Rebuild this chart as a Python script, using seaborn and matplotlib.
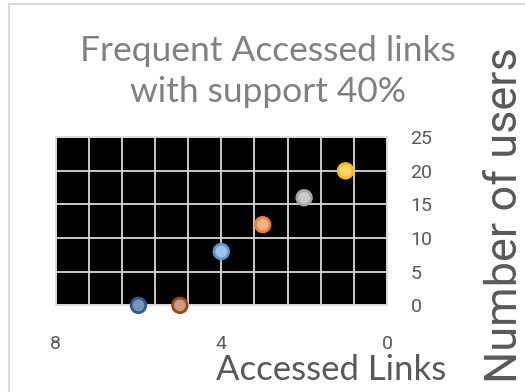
import matplotlib
matplotlib.use("Agg")
import matplotlib.pyplot as plt
import pandas as pd
import seaborn as sns
from matplotlib.lines import Line2D
from matplotlib.ticker import MultipleLocator

# data
links = [6, 5, 4, 3, 2, 1]
users = [0, 0, 8, 12, 16, 20]
fill_colors = ["#7b93b8", "#c99a86", "#9dc3e6", "#f4b183", "#c9c9c9", "#ffd966"]
edge_colors = ["#255e91", "#9e480e", "#5b9bd5", "#ed7d31", "#a5a5a5", "#ffc000"]

df = pd.DataFrame({"Accessed Links": links, "Number of users": users, "id": range(len(links))})

sns.set_style("white")
plt.rcParams["font.family"] = ["Lato", "DejaVu Sans"]

fig = plt.figure(figsize=(5.25, 3.92), dpi=100)
ax = fig.add_axes([0.106, 0.221, 0.631, 0.429])
ax.set_facecolor("black")

sns.scatterplot(data=df, x="Accessed Links", y="Number of users", hue="id",
                palette=fill_colors, s=110, linewidth=2, legend=False, ax=ax,
                clip_on=False, zorder=5)
ax.collections[0].set_edgecolor(edge_colors)

ax.set_xlim(8, 0)
ax.set_ylim(0, 25)
ax.xaxis.set_major_locator(MultipleLocator(4))
ax.xaxis.set_minor_locator(MultipleLocator(0.8))
ax.yaxis.set_major_locator(MultipleLocator(5))
ax.grid(True, which="both", color="#d9d9d9", linewidth=1.3)
ax.set_axisbelow(True)
for s in ax.spines.values():
    s.set_color("#d9d9d9")
    s.set_linewidth(1.3)

ax.yaxis.tick_right()
ax.tick_params(axis="both", which="both", length=0, colors="#595959")
ax.tick_params(axis="y", labelsize=14, pad=17)
ax.tick_params(axis="x", labelsize=14, pad=21)
for lab in ax.get_xticklabels() + ax.get_yticklabels():
    lab.set_family(["Roboto", "DejaVu Sans"])

ax.set_xlabel("Accessed Links", fontsize=25, color="#595959")
ax.xaxis.set_label_coords(0.831, -0.29)
ax.yaxis.set_label_position("right")
ax.set_ylabel("Number of users", fontsize=32.5, color="#595959", rotation=90,
              family=["Roboto", "DejaVu Sans"])
ax.yaxis.set_label_coords(1.294, 0.537)

fig.text(0.51, 0.818, "Frequent Accessed links\nwith support 40%", ha="center",
         va="center", fontsize=25.5, color="#808080", linespacing=1.32)

# chart frame
fig.add_artist(Line2D([9 / 525, 9 / 525], [0, 1 - 4 / 392], color="#d9d9d9", linewidth=1.5))
fig.add_artist(Line2D([9 / 525, 1], [1 - 4 / 392, 1 - 4 / 392], color="#d9d9d9", linewidth=1.5))

fig.savefig("out.png", dpi=100)
